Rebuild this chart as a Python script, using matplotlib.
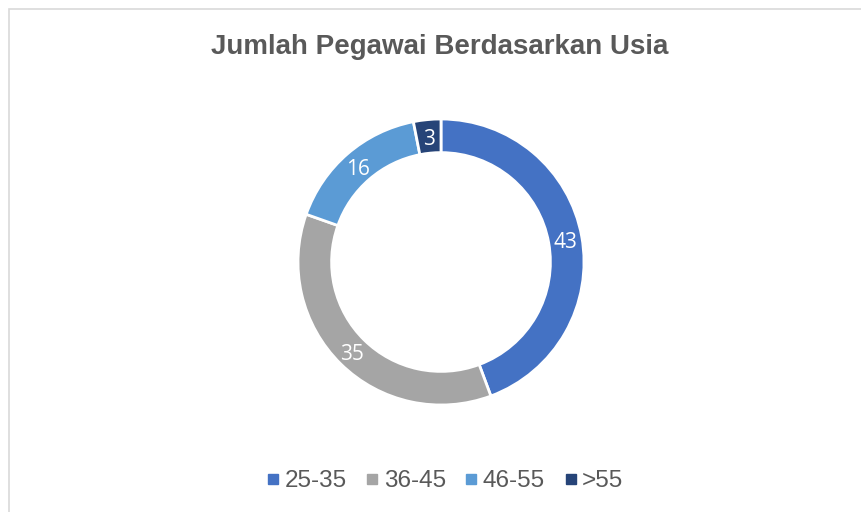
import numpy as np
import matplotlib.pyplot as plt
from matplotlib.patches import Rectangle
from matplotlib.lines import Line2D

# data
labels = ["25-35", "36-45", "46-55", ">55"]
values = [43, 35, 16, 3]
colors = ["#4472C4", "#A5A5A5", "#5B9BD5", "#264478"]

W, H = 861, 512
fig = plt.figure(figsize=(W / 100, H / 100), dpi=100)

# chart area frame (only top/left visible in the crop)
fig.patches.append(Rectangle((8.5 / W, -0.1), 1.2, 1 - 8.5 / H + 0.1,
                             transform=fig.transFigure, fill=False,
                             edgecolor="#D9D9D9", linewidth=1.2))

# donut: centre (441, 262), outer radius 143 px
cx, cy, r = 441, 262, 143
ax = fig.add_axes([(cx - r) / W, 1 - (cy + r) / H, 2 * r / W, 2 * r / H])
wedges, texts = ax.pie(values, colors=colors, startangle=90, counterclock=False,
                       radius=1.0,
                       wedgeprops=dict(width=0.235, edgecolor="white", linewidth=2))
ax.set_xlim(-1, 1)
ax.set_ylim(-1, 1)
ax.set_aspect("equal")
ax.axis("off")

for v, w in zip(values, wedges):
    mid = np.deg2rad((w.theta1 + w.theta2) / 2)
    rr = 1 - 0.235 / 2
    ax.text(rr * np.cos(mid), rr * np.sin(mid) - 0.02, str(v), color="white",
            fontsize=15, ha="center", va="center", family="Open Sans")

fig.text(440 / W, 1 - 47 / H, "Jumlah Pegawai Berdasarkan Usia", ha="center",
         va="center", fontsize=20, fontweight="bold", color="#595959",
         family="Liberation Sans")

handles = [Line2D([], [], marker="s", linestyle="none", markersize=7,
                  markerfacecolor=c, markeredgecolor=c) for c in colors]
fig.legend(handles, labels, loc="center", bbox_to_anchor=(445 / W, 1 - 481 / H),
           ncol=4, frameon=False, handletextpad=0.23, columnspacing=0.8,
           handlelength=0.5,
           prop=dict(family="Liberation Sans", size=17.5),
           labelcolor="#595959")

fig.savefig("out.png", dpi=100)
